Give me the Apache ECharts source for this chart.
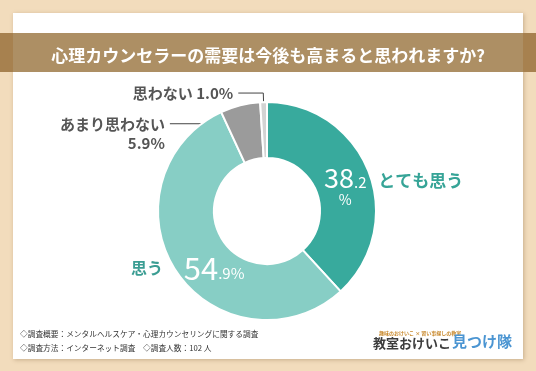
<!DOCTYPE html>
<html><head><meta charset="utf-8">
<script src="https://cdn.jsdelivr.net/npm/echarts@6/dist/echarts.min.js"></script>
<style>html,body{margin:0;padding:0;background:#f2dcbc;}#c{width:536px;height:371px;}</style>
</head><body><div id="c"></div><script>
// ---- data ----
const categories = ['とても思う', '思う', 'あまり思わない', '思わない'];
const values = [38.2, 54.9, 5.9, 1.0];
const titleText = '心理カウンセラーの需要は今後も高まると思われますか?';
const noteLines = ['◇調査概要：メンタルヘルスケア・心理カウンセリングに関する調査',
                   '◇調査方法：インターネット調査　◇調査人数：102 人'];
const logoSub = '趣味のおけいこ × 習い事探しの教室';
const logoMain1 = '教室おけいこ';
const logoMain2 = '見つけ隊';

// ---- styles ----
const sliceColors = ['#38aa9d', '#87cec5', '#9b9b9b', '#d3d3d3'];
const FONT = '"Noto Sans CJK JP", "Noto Sans", sans-serif';
const CENTER = [267, 211];

const chart = echarts.init(document.getElementById('c'), null, {renderer: 'canvas'});

function valueLabel(p) {
  const s = p.value.toFixed(1).split('.');
  if (p.dataIndex === 0) return '{b1|' + s[0] + '}{s1|.' + s[1] + '}\n{p1|%}';
  return '{b2|' + s[0] + '}{s2|.' + s[1] + '%}';
}

const mainData = categories.map((n, i) => ({
  name: n, value: values[i],
  itemStyle: {color: sliceColors[i]},
  label: {show: i < 2}
}));

const nameData = categories.map((n, i) => {
  const d = {name: n, value: values[i]};
  if (i === 0) {
    d.label = {show: true, formatter: '{b}', color: '#36a497', fontSize: 17, fontWeight: 'bold'};
    d.labelLine = {show: false, length: 5, length2: 0};
  } else if (i === 1) {
    d.label = {show: true, formatter: '{b}', color: '#3b9d93', fontSize: 16, fontWeight: 'bold'};
    d.labelLine = {show: false, length: 5, length2: 0};
  } else if (i === 3) {
    d.label = {show: true, formatter: p => p.name + ' ' + p.value.toFixed(1) + '%',
               color: '#555', fontSize: 15, fontWeight: 'bold'};
    d.labelLine = {show: true, length: 9, length2: 25, lineStyle: {color: '#444', width: 1}};
  } else {
    d.label = {show: false};
    d.labelLine = {show: false};
  }
  return d;
});

const innerData = categories.map((n, i) => {
  const d = {name: n, value: values[i]};
  if (i === 2) {
    d.label = {show: true, formatter: p => p.name + '\n' + p.value.toFixed(1) + '%',
               color: '#555', fontSize: 15, fontWeight: 'bold', lineHeight: 19, align: 'right'};
    d.labelLine = {show: true, length: 0.01, length2: 75, lineStyle: {color: '#444', width: 1}};
  } else {
    d.label = {show: false};
    d.labelLine = {show: false};
  }
  return d;
});

const option = {
  backgroundColor: '#f2dcbc',
  animation: false,
  textStyle: {fontFamily: FONT},
  title: {
    text: titleText, left: 'center', top: 42,
    textStyle: {color: '#ffffff', fontSize: 17, fontWeight: 'bold', fontFamily: FONT}
  },
  graphic: [
    {type: 'rect', z: -10, shape: {x: 13, y: 13, width: 510, height: 346},
     style: {fill: '#ffffff', shadowBlur: 4, shadowColor: 'rgba(120,90,50,0.35)', shadowOffsetX: 1, shadowOffsetY: 1}},
    {type: 'rect', z: -9, shape: {x: 0, y: 33, width: 536, height: 39}, style: {fill: '#a7814f'}},
    {type: 'rect', z: -8, shape: {x: 13, y: 33, width: 510, height: 39}, style: {fill: '#ad8f64'}},
    {type: 'text', left: 20, top: 330, style: {text: noteLines[0], fill: '#333', font: '7.7px ' + FONT}},
    {type: 'text', left: 20, top: 344, style: {text: noteLines[1], fill: '#333', font: '7.7px ' + FONT}},
    {type: 'text', left: 379, top: 331, style: {text: logoSub, fill: '#c98a2e', font: 'bold 5px ' + FONT}},
    {type: 'text', left: 373, top: 337, style: {text: logoMain1, fill: '#3d3d3d', font: 'bold 13px ' + FONT}},
    {type: 'text', left: 452, top: 334, style: {text: logoMain2, fill: '#4b95d2', font: 'bold 15px ' + FONT}}
  ],
  series: [
    {
      type: 'pie', center: CENTER, radius: [53, 109], startAngle: 90, clockwise: true,
      silent: true, avoidLabelOverlap: false,
      itemStyle: {borderColor: '#ffffff', borderWidth: 2},
      label: {
        position: 'inside', formatter: valueLabel, color: '#fff',
        rich: {
          b1: {fontSize: 27, color: '#fff', fontFamily: FONT, lineHeight: 28, verticalAlign: 'bottom'},
          s1: {fontSize: 15, color: '#fff', fontFamily: FONT, lineHeight: 28, verticalAlign: 'bottom', padding: [0, 0, 2, 0]},
          p1: {fontSize: 14, color: '#fff', fontFamily: FONT, lineHeight: 16},
          b2: {fontSize: 31, color: '#fff', fontFamily: FONT, lineHeight: 32, verticalAlign: 'bottom'},
          s2: {fontSize: 15, color: '#fff', fontFamily: FONT, lineHeight: 32, verticalAlign: 'bottom', padding: [0, 0, 3, 0]}
        }
      },
      labelLine: {show: false},
      labelLayout: function (p) {
        if (p.dataIndex === 0) return {dx: 0, dy: 5};
        if (p.dataIndex === 1) return {dx: 17, dy: 10};
        return {};
      },
      data: mainData
    },
    {
      type: 'pie', center: CENTER, radius: [53, 109], startAngle: 90, clockwise: true,
      silent: true, avoidLabelOverlap: false,
      itemStyle: {color: 'transparent', borderWidth: 0},
      emphasis: {disabled: true},
      label: {position: 'outside', fontFamily: FONT, edgeDistance: 0},
      labelLayout: function (p) {
        if (p.dataIndex === 0) return {dx: 0, dy: 11};
        if (p.dataIndex === 1) return {dx: -4, dy: -6};
        return {};
      },
      data: nameData
    },
    {
      type: 'pie', center: CENTER, radius: [0, 90], startAngle: 90, clockwise: true,
      silent: true, avoidLabelOverlap: false,
      itemStyle: {color: 'transparent', borderWidth: 0},
      emphasis: {disabled: true},
      label: {position: 'outside', fontFamily: FONT},
      labelLayout: function (p) {
        if (p.dataIndex === 2) return {dy: 10};
        return {};
      },
      data: innerData
    }
  ]
};
chart.setOption(option);
</script></body></html>
